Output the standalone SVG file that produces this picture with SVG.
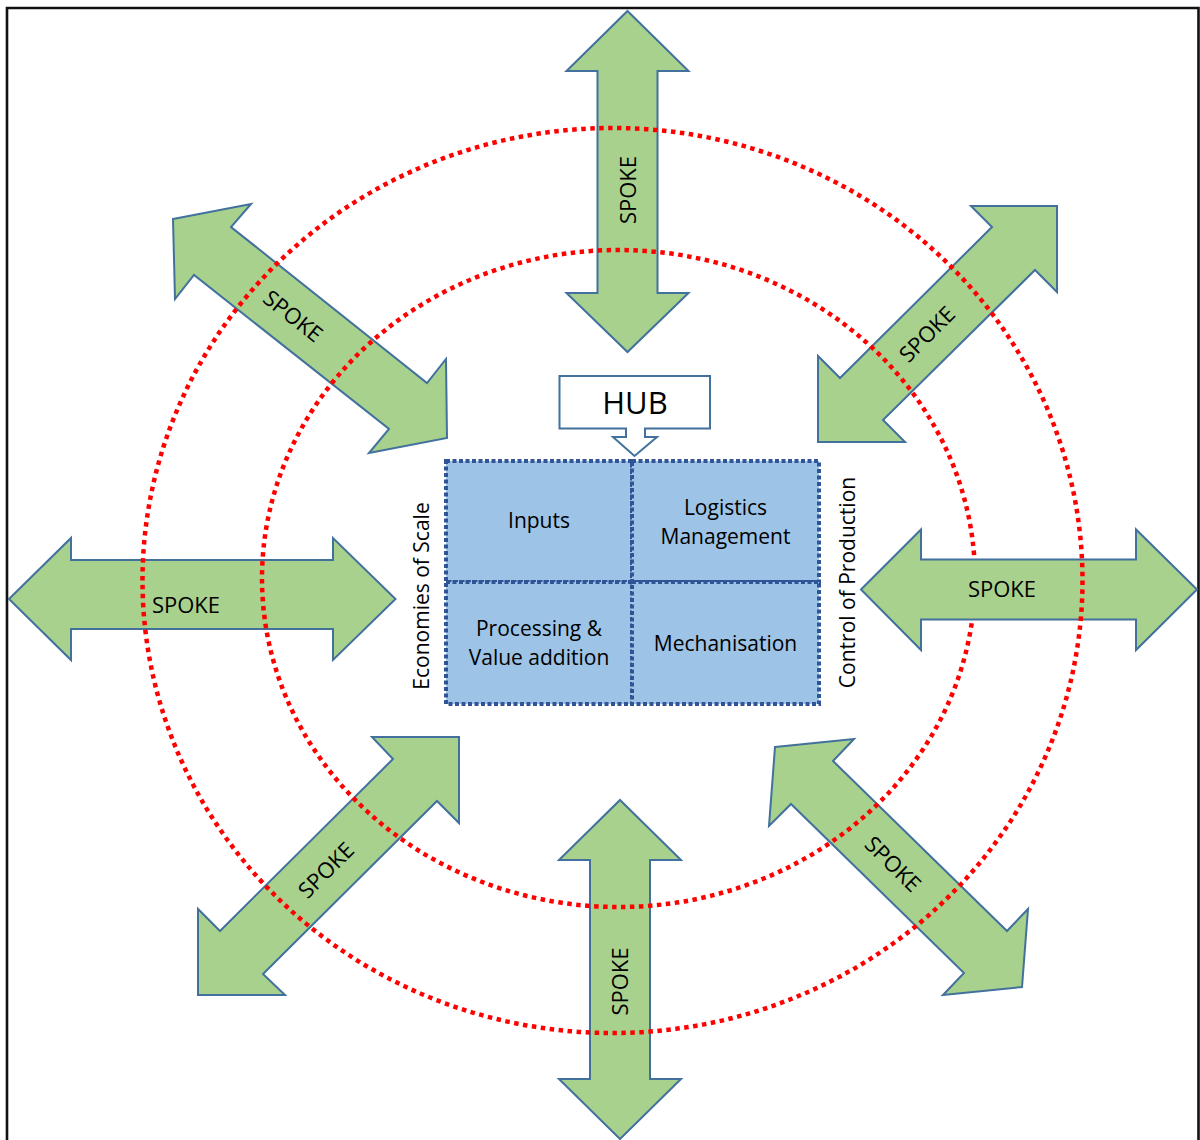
<svg xmlns="http://www.w3.org/2000/svg" width="1200" height="1140" viewBox="0 0 1200 1140">
  <style>
    .spoke { fill: #A9D18E; stroke: #41719C; stroke-width: 2; stroke-linejoin: miter; }
    .ring { fill: none; stroke: #FF0000; stroke-width: 4.5; stroke-dasharray: 4.5 4.5; }
    .cell { fill: #9DC3E6; stroke: #2F5597; stroke-width: 4; stroke-dasharray: 4 2.5; }
    .label { font-family: "Open Sans", "Liberation Sans", sans-serif; fill: #000; }
    .sp { font-size: 22px; text-anchor: middle; }
    .cl { font-size: 21px; text-anchor: middle; }
  </style>

  <rect x="0" y="0" width="1200" height="1140" fill="#FFFFFF"/>
  <!-- frame: top, left and right edges -->
  <path d="M7,1142 V8 H1198.5 V1142" fill="none" stroke="#111" stroke-width="2.6"/>

  <!-- spokes under the inner ring -->
  <g id="spoke-top">
    <polygon class="spoke" points="627.5,11 688.5,71 657.5,71 657.5,293 688.5,293 627.5,352 566.5,293 597.5,293 597.5,71 566.5,71"/>
    <text class="label sp" transform="translate(628.5,190) rotate(-90)" dy=".36em">SPOKE</text>
  </g>
  <g id="spoke-bottom">
    <polygon class="spoke" points="620,800 681,860 650,860 650,1079 681,1079 620,1139 559,1079 590,1079 590,860 559,860"/>
    <text class="label sp" transform="translate(620.5,981.5) rotate(-90)" dy=".36em">SPOKE</text>
  </g>
  <g id="spoke-left">
    <polygon class="spoke" points="9,599 71,538 71,560 333,560 333,538 395.5,599 333,660 333,629 71,629 71,660"/>
    <text class="label sp" x="186" y="605" dy=".36em">SPOKE</text>
  </g>
  <g id="spoke-nw">
    <polygon class="spoke" points="173,219 251,204 231,227 427,383 446,359 447,438 369,453 389,429 194,275 175,299"/>
    <text class="label sp" transform="translate(293,316) rotate(38.4)" dy=".36em">SPOKE</text>
  </g>
  <g id="spoke-se">
    <polygon class="spoke" points="775,747 854,739 833,761 1007,931 1028,909 1022,987 943,995 964,973 791,804 769,826"/>
    <text class="label sp" transform="translate(893,864) rotate(44.4)" dy=".36em">SPOKE</text>
  </g>
  <g id="spoke-ne">
    <polygon class="spoke" points="1057,206 1057,292 1035,270 883,420 905,442 818,442 818,356 840,378 992,227 971,206"/>
    <text class="label sp" transform="translate(927,334) rotate(-45)" dy=".36em">SPOKE</text>
  </g>
  <g id="spoke-sw">
    <polygon class="spoke" points="459,737 459,823 437,801 263,974 285,995 198,995 198,909 220,931 393,759 372,737"/>
    <text class="label sp" transform="translate(326,870) rotate(-45)" dy=".36em">SPOKE</text>
  </g>

  <!-- dotted rings around the hub -->
  <g id="rings">
    <ellipse id="ring-inner" class="ring" cx="618.5" cy="578.5" rx="356.5" ry="328.5"/>
  </g>

  <g id="spoke-right">
    <polygon class="spoke" points="861,589.5 921,529.5 921,559.5 1136,559.5 1136,529.5 1197,589.5 1136,650 1136,619.5 921,619.5 921,650"/>
    <text class="label sp" x="1002" y="589" dy=".36em">SPOKE</text>
  </g>

  <g id="rings-outer">
    <ellipse id="ring-outer" class="ring" cx="612.5" cy="580.5" rx="470" ry="452.5"/>
  </g>

  <!-- hub callout -->
  <g id="hub-callout">
    <polygon points="559.5,376 710,376 710,428.5 645,428.5 645,437 657,437 634.5,456 613,437 626,437 626,428.5 559.5,428.5" fill="#FFFFFF" stroke="#41719C" stroke-width="2"/>
    <text class="label" x="635" y="414" font-size="31" text-anchor="middle">HUB</text>
  </g>

  <!-- hub functions -->
  <g id="cell-inputs">
    <rect class="cell" x="446" y="461" width="186" height="121"/>
    <text class="label cl" x="539" y="528">Inputs</text>
  </g>
  <g id="cell-logistics">
    <rect class="cell" x="632" y="461" width="187" height="121"/>
    <text class="label cl" x="725.5" y="515">Logistics</text>
    <text class="label cl" x="725.5" y="544">Management</text>
  </g>
  <g id="cell-processing">
    <rect class="cell" x="446" y="582" width="186" height="122"/>
    <text class="label cl" x="539" y="636">Processing &amp;</text>
    <text class="label cl" x="539" y="665">Value addition</text>
  </g>
  <g id="cell-mechanisation">
    <rect class="cell" x="632" y="582" width="187" height="122"/>
    <text class="label cl" x="725.5" y="651">Mechanisation</text>
  </g>

  <!-- side captions -->
  <g id="caption-economies">
    <text class="label" font-size="21" text-anchor="middle" transform="translate(429,596) rotate(-90)">Economies of Scale</text>
  </g>
  <g id="caption-control">
    <text class="label" font-size="21" text-anchor="middle" transform="translate(855,582.5) rotate(-90)">Control of Production</text>
  </g>

  <g id="connectors"/>
</svg>
